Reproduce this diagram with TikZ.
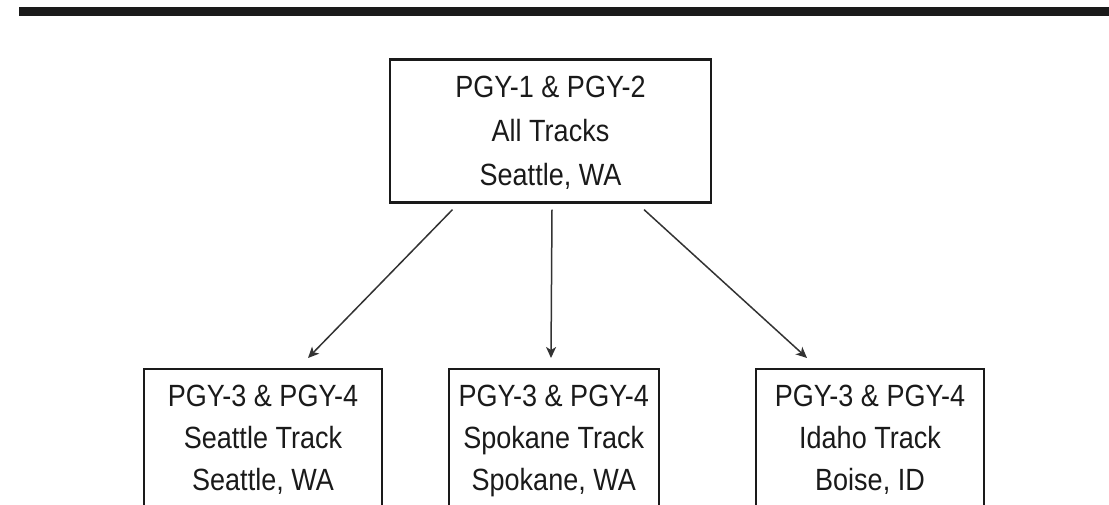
\documentclass[tikz,border=0pt]{standalone}
\usepackage{fontspec}
\setmainfont{Liberation Sans}[FakeStretch=0.88]
\usetikzlibrary{arrows.meta}
\definecolor{ink}{HTML}{1A1A1A}
\definecolor{arrowgray}{HTML}{333333}
\begin{document}
\begin{tikzpicture}[x=1pt,y=-1pt,
  topbox/.style={draw=ink,line width=2.2pt,align=center,text=ink,
    minimum width=321pt,minimum height=143pt,inner sep=0pt,text depth=0pt,
    font=\fontsize{30.7}{44}\selectfont},
  trackbox/.style={draw=ink,line width=1.9pt,align=center,text=ink,anchor=north,
    minimum height=152pt,inner sep=0pt,text depth=14.5pt,
    font=\fontsize{30.7}{42}\selectfont},
  arr/.style={draw=arrowgray,line width=1.5pt,-{Stealth[length=11pt,width=10pt,inset=3pt]}}]
\useasboundingbox (0,0) rectangle (1109,504);
\clip (0,0) rectangle (1109,504);
\fill[ink] (19,7) rectangle (1109,15.5);
\node[topbox] (top) at (550.5,131) {PGY-1 \& PGY-2\\All Tracks\\Seattle, WA};
\node[trackbox,minimum width=238pt] (sea) at (263,368) {PGY-3 \& PGY-4\\Seattle Track\\Seattle, WA};
\node[trackbox,minimum width=210pt] (spk) at (553.75,368) {PGY-3 \& PGY-4\\Spokane Track\\Spokane, WA};
\node[trackbox,minimum width=228pt] (ida) at (870,368) {PGY-3 \& PGY-4\\Idaho Track\\Boise, ID};
\draw[arr] ([xshift=-98pt,yshift=-6pt]top.south) -- ([xshift=45pt,yshift=10pt]sea.north);
\draw[arr] ([xshift=1.5pt,yshift=-6pt]top.south) -- ([xshift=-2.75pt,yshift=10pt]spk.north);
\draw[arr] ([xshift=93.5pt,yshift=-6pt]top.south) -- ([xshift=-63pt,yshift=10pt]ida.north);
\end{tikzpicture}
\end{document}
